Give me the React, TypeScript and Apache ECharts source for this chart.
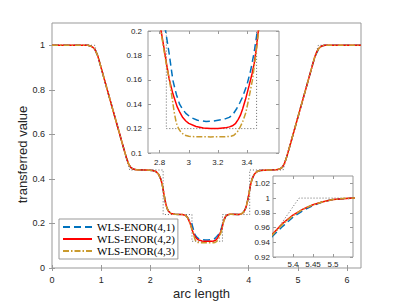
import React, { useEffect, useRef } from "react";
import * as echarts from "echarts";

type P = [number, number];

const seriesNames = ["WLS-ENOR(4,1)", "WLS-ENOR(4,2)", "WLS-ENOR(4,3)"];
const seriesColors = ["#0072BD", "#FF0000", "#C99A2E"];

// exact (dotted) transferred value
const exactValues: P[] = [
  [0, 1], [0.868, 1], [1.58, 0.44], [2.26, 0.44], [2.26, 0.24], [2.846, 0.24], [2.846, 0.12],
  [3.466, 0.12], [3.466, 0.24], [4.02, 0.24], [4.02, 0.44], [4.7, 0.44], [5.415, 1], [6.2832, 1],
];

const sharedLeft: P[] = [
  [0, 1], [0.5, 1], [0.73, 1], [0.78, 0.997], [0.83, 0.991], [0.87, 0.982], [0.9, 0.968], [0.93, 0.953],
  [0.97, 0.922], [1.1, 0.819], [1.3, 0.661], [1.45, 0.543], [1.52, 0.49], [1.56, 0.466], [1.6, 0.452],
  [1.65, 0.444], [1.72, 0.441], [1.9, 0.44], [2.05, 0.438], [2.12, 0.432], [2.17, 0.42], [2.21, 0.4],
  [2.23, 0.385], [2.25, 0.365], [2.27, 0.34], [2.29, 0.315], [2.31, 0.292], [2.33, 0.275], [2.35, 0.263],
  [2.37, 0.255], [2.42, 0.245], [2.5, 0.241], [2.65, 0.24], [2.7, 0.237],
];

const blueMid: P[] = [
  [2.72, 0.236], [2.76, 0.226], [2.8, 0.212], [2.841, 0.2], [2.866, 0.181], [2.891, 0.1595], [2.915, 0.148],
  [2.937, 0.14], [2.96, 0.1355], [2.98, 0.1325], [3.016, 0.129], [3.06, 0.1268], [3.119, 0.1259],
  [3.17, 0.1262], [3.22, 0.1272], [3.25, 0.128], [3.278, 0.1292], [3.3, 0.131], [3.33, 0.1365],
  [3.35, 0.141], [3.369, 0.1457], [3.4, 0.156], [3.426, 0.168], [3.45, 0.183], [3.471, 0.2],
  [3.5, 0.216], [3.53, 0.23], [3.57, 0.238], [3.62, 0.241],
];
const redMid: P[] = [
  [2.72, 0.236], [2.75, 0.229], [2.78, 0.215], [2.81, 0.2], [2.83, 0.186], [2.846, 0.174], [2.865, 0.161],
  [2.891, 0.1485], [2.92, 0.138], [2.94, 0.133], [2.959, 0.129], [2.98, 0.1262], [3.0, 0.1243],
  [3.05, 0.1217], [3.1, 0.1205], [3.15, 0.12], [3.2, 0.1201], [3.25, 0.1206], [3.28, 0.1214],
  [3.3, 0.1223], [3.32, 0.124], [3.34, 0.1275], [3.355, 0.131], [3.37, 0.136], [3.39, 0.144],
  [3.414, 0.155], [3.435, 0.165], [3.449, 0.173], [3.465, 0.186], [3.478, 0.2], [3.5, 0.217],
  [3.53, 0.232], [3.57, 0.239], [3.62, 0.241],
];
const goldMid: P[] = [
  [2.72, 0.235], [2.76, 0.226], [2.79, 0.211], [2.81, 0.199], [2.83, 0.184], [2.85, 0.17], [2.868, 0.1595],
  [2.885, 0.1455], [2.902, 0.132], [2.915, 0.1245], [2.93, 0.12], [2.948, 0.1168], [2.97, 0.1147],
  [3.0, 0.1137], [3.05, 0.1133], [3.15, 0.1132], [3.25, 0.1133], [3.29, 0.1137], [3.31, 0.1145],
  [3.334, 0.1173], [3.35, 0.1205], [3.37, 0.1255], [3.392, 0.133], [3.415, 0.146], [3.437, 0.1595],
  [3.46, 0.18], [3.478, 0.198], [3.5, 0.215], [3.53, 0.231], [3.57, 0.239], [3.62, 0.241],
];

const sharedRight: P[] = [
  [3.65, 0.241], [3.8, 0.24], [3.86, 0.244], [3.9, 0.252], [3.93, 0.265], [3.95, 0.277], [3.97, 0.295],
  [3.99, 0.315], [4.01, 0.34], [4.03, 0.365], [4.05, 0.385], [4.07, 0.4], [4.11, 0.42], [4.16, 0.432],
  [4.23, 0.438], [4.4, 0.44], [4.56, 0.441], [4.63, 0.444], [4.68, 0.452], [4.72, 0.466], [4.76, 0.49],
  [4.83, 0.543], [4.98, 0.661], [5.18, 0.819], [5.31, 0.922],
];

const blueEnd: P[] = [
  [5.33, 0.935], [5.35, 0.949], [5.375, 0.962], [5.4, 0.974], [5.425, 0.983], [5.45, 0.99], [5.475, 0.995],
  [5.5, 0.998], [5.525, 0.999], [5.55, 1.0],
];
const redEnd: P[] = [
  [5.33, 0.938], [5.35, 0.952], [5.375, 0.966], [5.4, 0.977], [5.425, 0.985], [5.45, 0.991], [5.475, 0.995],
  [5.5, 0.998], [5.525, 0.999], [5.55, 1.0],
];
const goldEnd: P[] = [
  [5.33, 0.937], [5.35, 0.951], [5.375, 0.965], [5.4, 0.976], [5.425, 0.985], [5.45, 0.991], [5.475, 0.995],
  [5.5, 0.998], [5.525, 0.9995], [5.55, 1.0],
];
const tail: P[] = [[5.6, 1], [6.2832, 1]];

const mainXTicks = [0, 1, 2, 3, 4, 5, 6];
const mainYTicks = [0, 0.2, 0.4, 0.6, 0.8, 1];
const inset1XTicks = [2.8, 3, 3.2, 3.4];
const inset1YTicks = [0.1, 0.12, 0.14, 0.16, 0.18, 0.2];
const inset2XTicks = [5.4, 5.45, 5.5];
const inset2YTicks = [0.92, 0.94, 0.96, 0.98, 1, 1.02];

const curves: P[][] = [
  [...sharedLeft, ...blueMid, ...sharedRight, ...blueEnd, ...tail],
  [...sharedLeft, ...redMid, ...sharedRight, ...redEnd, ...tail],
  [...sharedLeft, ...goldMid, ...sharedRight, ...goldEnd, ...tail],
];

const AXIS_COLOR = "#999";
const LABEL_COLOR = "#262626";

function axis(gridIndex: number, min: number, max: number, ticks: number[],
  position: string, showLabel: boolean, fontSize: number, margin: number, z: number) {
  return {
    type: "value", gridIndex, min, max, position, z,
    axisLine: { show: false },
    splitLine: { show: false },
    axisTick: { show: true, inside: true, length: 3, customValues: ticks, lineStyle: { color: AXIS_COLOR, width: 1 } },
    axisLabel: {
      show: showLabel, customValues: ticks, fontSize, margin, color: LABEL_COLOR,
      fontFamily: "Liberation Sans",
    },
  };
}

function buildOption() {
  const grids = [
    { left: 52, top: 23, right: 38, bottom: 35, show: true, borderColor: AXIS_COLOR, borderWidth: 1, backgroundColor: "transparent", z: 0 },
    { left: 148, top: 31, right: 120, bottom: 150, show: true, borderColor: AXIS_COLOR, borderWidth: 1, backgroundColor: "#fff", z: 5 },
    { left: 273, top: 176, right: 46, bottom: 46, show: true, borderColor: AXIS_COLOR, borderWidth: 1, backgroundColor: "#fff", z: 5 },
  ];
  const xAxes = [
    axis(0, 0, 6.2832, mainXTicks, "bottom", true, 9, 7, 1),
    axis(0, 0, 6.2832, mainXTicks, "top", false, 9, 7, 1),
    axis(1, 2.72, 3.62, inset1XTicks, "bottom", true, 8, 5, 6),
    axis(1, 2.72, 3.62, inset1XTicks, "top", false, 8, 5, 6),
    axis(2, 5.35, 5.55, inset2XTicks, "bottom", true, 8, 3, 6),
    axis(2, 5.35, 5.55, inset2XTicks, "top", false, 8, 3, 6),
  ];
  const yAxes = [
    axis(0, 0, 1.1, mainYTicks, "left", true, 9, 7, 1),
    axis(0, 0, 1.1, mainYTicks, "right", false, 9, 7, 1),
    axis(1, 0.1, 0.2, inset1YTicks, "left", true, 8, 6, 6),
    axis(1, 0.1, 0.2, inset1YTicks, "right", false, 8, 6, 6),
    axis(2, 0.92, 1.03, inset2YTicks, "left", true, 8, 3, 6),
    axis(2, 0.92, 1.03, inset2YTicks, "right", false, 8, 3, 6),
  ];
  const dashTypes: any[] = [[7, 4], "solid", [6, 2, 1.5, 2]];
  const series: any[] = [];
  for (let g = 0; g < 3; g++) {
    const ax = g * 2;
    const z = g === 0 ? 2 : 7;
    series.push({
      type: "line", name: "exact", data: exactValues, xAxisIndex: ax, yAxisIndex: ax,
      showSymbol: false, symbol: "none", z, clip: true,
      lineStyle: { color: "#555", width: 0.9, type: [1, 2] },
    });
    for (let s = 0; s < 3; s++) {
      series.push({
        type: "line", name: seriesNames[s], data: curves[s], xAxisIndex: ax, yAxisIndex: ax,
        showSymbol: false, symbol: "none", z, clip: true,
        lineStyle: { color: seriesColors[s], width: 1.5, type: dashTypes[s] },
        itemStyle: { color: seriesColors[s] },
      });
    }
  }
  return {
    animation: false,
    backgroundColor: "#fff",
    grid: grids,
    xAxis: xAxes,
    yAxis: yAxes,
    series,
    legend: {
      data: seriesNames, orient: "vertical", left: 59, top: 219, padding: [2, 3, 2, 3], itemGap: 0,
      itemWidth: 29, itemHeight: 10, backgroundColor: "#fff", borderColor: AXIS_COLOR, borderWidth: 1,
      selectedMode: false, z: 8,
      itemStyle: { opacity: 0 },
      textStyle: { fontFamily: "Liberation Serif", fontSize: 11, color: "#000", lineHeight: 12 },
    },
    graphic: [
      {
        type: "text", x: 201.5, y: 293, z: 10,
        style: { text: "arc length", fontFamily: "Liberation Sans", fontSize: 13, fill: LABEL_COLOR, align: "center", verticalAlign: "middle" },
      },
      {
        type: "text", x: 22.5, y: 154.5, rotation: Math.PI / 2, z: 10,
        style: { text: "transferred value", fontFamily: "Liberation Sans", fontSize: 13, fill: LABEL_COLOR, align: "center", verticalAlign: "middle" },
      },
    ],
  };
}

export default function App() {
  const ref = useRef<HTMLDivElement>(null);
  useEffect(() => {
    const chart = echarts.init(ref.current!, null, { renderer: "svg" });
    chart.setOption(buildOption() as any);
    return () => chart.dispose();
  }, []);
  return <div ref={ref} style={{ position: "fixed", left: 0, top: 0, width: 399, height: 303, background: "#fff" }} />;
}
